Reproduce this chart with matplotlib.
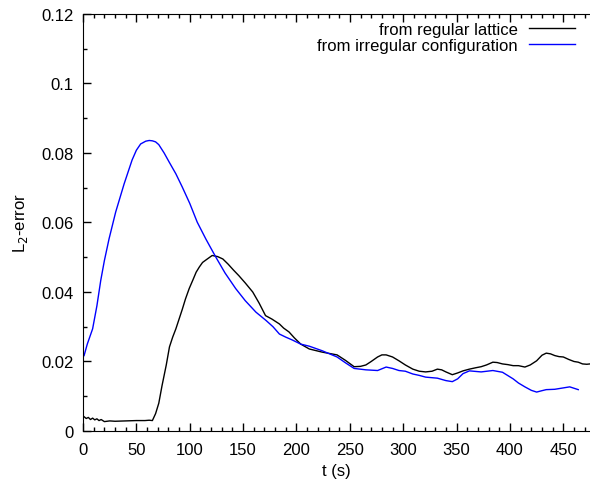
import numpy as np
import matplotlib
matplotlib.use("Agg")
import matplotlib.pyplot as plt
from matplotlib.ticker import MultipleLocator

plt.rcParams['font.family'] = ['Liberation Sans', 'DejaVu Sans']
plt.rcParams['font.size'] = 12

# values
t_reg = [1, 3, 5, 7, 9, 11, 13, 15, 17, 20, 25, 30, 40, 50, 58, 62, 65, 68, 71, 74,
         78, 81, 84, 87, 90, 93, 96, 99.5, 103, 106, 109, 112, 116, 121, 126, 131, 136,
         141, 146, 152, 159, 165, 171, 177, 184, 188, 193, 198, 204, 212, 224, 238, 246,
         254, 260, 265, 270, 276, 280, 284, 290, 296, 302, 309, 315, 321, 327, 332, 336,
         340, 346, 351, 356, 362, 368, 373, 378, 384, 388, 393, 398, 403, 408, 414, 419,
         425, 430, 434, 438, 442, 446, 450, 455, 460, 464, 468, 472, 475]
e_reg = [0.0041, 0.0036, 0.0039, 0.0033, 0.0037, 0.0032, 0.0035, 0.0030, 0.0033, 0.0027,
         0.0029, 0.0028, 0.0029, 0.0030, 0.0030, 0.0031, 0.0030, 0.0050, 0.0080, 0.0130,
         0.0190, 0.0242, 0.0270, 0.0294, 0.0322, 0.0350, 0.0380, 0.0410, 0.0435, 0.0457,
         0.0472, 0.0485, 0.0494, 0.0505, 0.0502, 0.0495, 0.0480, 0.0463, 0.0447, 0.0426,
         0.0400, 0.0368, 0.0332, 0.0322, 0.0308, 0.0296, 0.0285, 0.0268, 0.0250, 0.0236,
         0.0227, 0.0219, 0.0203, 0.0185, 0.0186, 0.0190, 0.0200, 0.0213, 0.0219, 0.0219,
         0.0213, 0.0202, 0.0190, 0.0178, 0.0172, 0.0170, 0.0172, 0.0178, 0.0176, 0.0170,
         0.0162, 0.0167, 0.0173, 0.0178, 0.0182, 0.0185, 0.0190, 0.0198, 0.0197, 0.0193,
         0.0191, 0.0188, 0.0188, 0.0184, 0.0190, 0.0202, 0.0218, 0.0224, 0.0222, 0.0217,
         0.0214, 0.0213, 0.0206, 0.0200, 0.0198, 0.0193, 0.0192, 0.0193]

t_irr = [1, 4, 9, 13, 16.6, 20, 24.4, 30.6, 38.5, 46, 50, 54, 58.8, 62, 65, 68, 71, 76,
         80.7, 87, 93, 100, 107, 115, 120, 124.5, 133, 143, 152, 162, 171.5, 178, 184,
         190, 196, 204, 212, 224, 238, 246, 254, 265, 276, 284, 290, 296, 302, 309, 315,
         321, 332, 340, 346, 351, 356, 362, 373, 384, 393, 403, 408, 414, 420, 425, 430,
         434, 442, 450, 456, 460, 464]
e_irr = [0.0217, 0.0250, 0.0294, 0.0360, 0.0433, 0.0490, 0.0553, 0.0630, 0.0711, 0.0780,
         0.0808, 0.0826, 0.0834, 0.0836, 0.0835, 0.0832, 0.0824, 0.0800, 0.0774, 0.0740,
         0.0702, 0.0655, 0.0601, 0.0553, 0.0525, 0.0500, 0.0455, 0.0410, 0.0375, 0.0342,
         0.0318, 0.0300, 0.0279, 0.0270, 0.0262, 0.0250, 0.0244, 0.0231, 0.0213, 0.0196,
         0.0180, 0.0176, 0.0174, 0.0184, 0.0180, 0.0174, 0.0172, 0.0164, 0.0160, 0.0155,
         0.0152, 0.0145, 0.0142, 0.0150, 0.0165, 0.0173, 0.0170, 0.0174, 0.0169, 0.0150,
         0.0138, 0.0127, 0.0117, 0.0112, 0.0116, 0.0119, 0.0120, 0.0124, 0.0127, 0.0123,
         0.0119]

fig = plt.figure(figsize=(5.9, 4.85), dpi=100)
ax = fig.add_axes([0.1407, 0.1093, 0.8593, 0.8598])

ax.plot(t_reg, e_reg, color='black', lw=1.0, label='from regular lattice')
ax.plot(t_irr, e_irr, color='#0000ff', lw=1.0, label='from irregular configuration')

ax.set_xlim(0, 475)
ax.set_ylim(0, 0.12)
ax.xaxis.set_major_locator(MultipleLocator(50))
ax.xaxis.set_minor_locator(MultipleLocator(10))
ax.yaxis.set_major_locator(MultipleLocator(0.02))
ax.yaxis.set_minor_locator(MultipleLocator(0.01))
ax.yaxis.set_major_formatter(plt.FuncFormatter(lambda v, p: f'{v:g}'))
ax.tick_params(which='both', direction='in', top=True, right=False, width=1)
ax.tick_params(which='major', length=6)
ax.tick_params(which='minor', length=3)
ax.tick_params(axis='x', which='major', pad=8)
ax.tick_params(axis='y', which='major', pad=7)
ax.spines['right'].set_visible(False)

ax.set_xlabel('t (s)', labelpad=4)
ax.set_ylabel('L$_2$-error', labelpad=8)

ax.legend(loc='upper right', frameon=False, markerfirst=False, handlelength=2.75,
          handletextpad=0.66, labelspacing=0.05, borderpad=0, borderaxespad=0,
          bbox_to_anchor=(0.970, 0.981))

fig.savefig('out.png', dpi=100)
